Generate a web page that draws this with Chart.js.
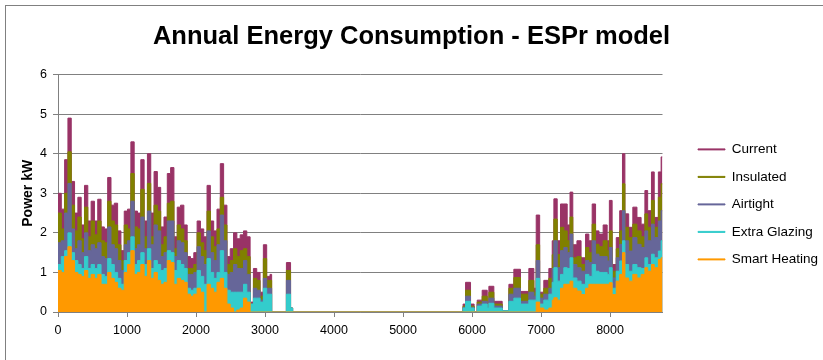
<!DOCTYPE html>
<html lang="en">
  <head>
    <meta charset="UTF-8" />
    <title>Annual Energy Consumption - ESPr model</title>
    <style>
      body {
        margin: 0;
        background-color: #ffffff;
      }
      .wrap {
        position: relative;
        width: 823px;
        height: 360px;
        overflow: hidden;
      }
      .frame {
        position: absolute;
        left: 5px;
        top: 5px;
        width: 900px;
        height: 400px;
        border-left: 1px solid #808080;
        border-top: 1px solid #808080;
      }
      canvas {
        position: absolute;
        left: 0;
        top: 0;
      }
    </style>
  </head>
  <body>
    <div class="wrap">
      <div class="frame"></div>
      <canvas id="energyChart" width="823" height="360"></canvas>
    </div>

    <script src="https://cdn.jsdelivr.net/npm/chart.js"></script>
    <script>
      // hour of year where each reading starts (held until the next one)
      var hours = [
        0, 48, 96, 144, 192, 240, 288, 336, 384, 432, 480, 528, 576, 624, 672, 720,
        768, 816, 864, 912, 960, 1008, 1056, 1104, 1152, 1200, 1248, 1296, 1344, 1392,
        1440, 1488, 1536, 1584, 1632, 1680, 1728, 1776, 1824, 1872, 1920, 1968, 2016,
        2064, 2112, 2160, 2208, 2256, 2304, 2352, 2400, 2448, 2496, 2544, 2592, 2640,
        2688, 2736, 2784, 2832, 2880, 2928, 2976, 3024, 3072, 3096, 3310, 3370, 3400,
        5870, 5906, 5978, 6030, 6075, 6147, 6220, 6244, 6316, 6437, 6534, 6606, 6702,
        6823, 6896, 6930, 6980, 7040, 7113, 7162, 7186, 7234, 7282, 7330, 7379, 7420,
        7460, 7520, 7580, 7645, 7693, 7741, 7790, 7840, 7900, 7958, 7990, 8030, 8090,
        8140, 8180, 8215, 8270, 8330, 8390, 8450, 8505, 8545, 8600, 8640, 8700, 8740, 8760
      ];

      var current = [
        3.0, 2.6, 3.85, 4.9, 3.3, 2.5, 2.9, 2.2, 3.2, 2.3, 2.8, 2.3, 2.85, 2.15, 2.1, 3.4,
        2.7, 2.75, 2.05, 1.55, 2.55, 2.6, 4.3, 2.55, 2.5, 3.85, 2.3, 4.0, 2.5, 3.55,
        3.15, 2.15, 2.4, 3.5, 3.65, 1.9, 2.65, 2.7, 2.2, 1.4, 1.35, 1.5, 2.3,
        2.1, 1.9, 3.2, 2.3, 2.05, 2.6, 3.75, 2.7, 1.4, 1.6, 2.0, 1.85, 1.95,
        2.05, 1.9, 0.25, 1.1, 1.0, 0.5, 1.7, 0.9, 0.95, 0, 1.25, 0.1, 0,
        0.2, 0.75, 0.2, 0, 0.3, 0.55, 0.1, 0.65, 0.27, 0.03, 0.7, 1.08, 0.52,
        1.1, 0.6, 2.45, 0.5, 0.8, 1.1, 1.8, 2.86, 1.8, 2.73, 2.73, 2.2, 3.03,
        1.7, 1.8, 1.37, 1.97, 1.8, 2.73, 2.05, 1.97, 2.2, 1.8, 2.82, 1.2, 1.88,
        2.56, 4.0, 2.48, 2.14, 2.65, 2.39, 2.22, 3.07, 2.56, 3.54, 2.39, 3.54, 3.92, 3.92
      ];

      var insulated = [
        2.5, 2.1, 3.0, 4.05, 2.7, 2.05, 2.4, 1.85, 2.65, 1.9, 2.3, 1.95, 2.3, 1.8, 1.75, 2.8,
        2.3, 2.2, 1.7, 1.3, 2.2, 2.1, 3.5, 2.15, 2.1, 3.1, 1.9, 3.25, 1.9, 2.7,
        2.55, 1.7, 1.9, 2.75, 2.8, 1.6, 2.2, 2.1, 1.8, 1.1, 1.1, 1.2, 2.0,
        1.75, 1.55, 2.55, 1.9, 1.65, 2.1, 2.9, 2.2, 1.2, 1.3, 1.6, 1.4, 1.55,
        1.6, 1.4, 0.2, 0.85, 0.8, 0.4, 1.35, 0.8, 0.8, 0, 1.05, 0.1, 0,
        0.15, 0.55, 0.15, 0, 0.25, 0.4, 0.1, 0.5, 0.2, 0.03, 0.6, 0.87, 0.45,
        0.8, 0.5, 1.7, 0.45, 0.6, 0.85, 1.45, 2.35, 1.45, 2.14, 2.05, 1.8, 2.4,
        1.37, 1.4, 1.2, 1.63, 1.5, 2.22, 1.71, 1.65, 1.8, 1.55, 2.05, 1.03, 1.6,
        2.05, 3.24, 2.14, 1.88, 2.22, 2.05, 1.9, 2.48, 2.14, 2.82, 2.14, 2.9, 3.24, 3.24
      ];

      var airtight = [
        1.75, 1.8, 2.5, 3.25, 2.1, 1.6, 1.8, 1.5, 2.0, 1.55, 1.7, 1.6, 1.75, 1.4, 1.35, 2.15,
        1.7, 1.6, 1.3, 1.05, 1.7, 1.8, 2.8, 1.6, 1.7, 2.4, 1.6, 2.55, 1.7, 2.2,
        2.05, 1.4, 1.5, 2.3, 2.3, 1.4, 1.8, 1.75, 1.5, 0.95, 0.95, 1.0, 1.65,
        1.4, 1.2, 2.05, 1.5, 1.3, 1.7, 2.45, 1.8, 0.95, 1.0, 1.2, 1.1, 1.1,
        1.3, 0.95, 0.2, 0.6, 0.55, 0.3, 0.85, 0.6, 0.6, 0, 0.8, 0.1, 0,
        0.12, 0.4, 0.12, 0, 0.2, 0.27, 0.1, 0.35, 0.15, 0.03, 0.45, 0.6, 0.27,
        0.5, 0.4, 1.3, 0.35, 0.45, 0.6, 1.1, 1.8, 1.12, 1.55, 1.63, 1.5, 1.97,
        1.2, 1.12, 1.03, 1.3, 1.25, 1.8, 1.46, 1.4, 1.4, 1.29, 1.63, 0.86, 1.37,
        1.71, 2.56, 1.8, 1.54, 1.88, 1.71, 1.63, 2.05, 1.8, 2.22, 1.88, 2.3, 2.56, 2.56
      ];

      var extraGlazing = [
        1.2, 1.4, 1.55, 2.0, 1.5, 1.3, 1.2, 1.1, 1.4, 1.1, 1.2, 1.1, 1.2, 0.95, 0.9, 1.35,
        1.2, 1.0, 0.85, 0.7, 1.3, 1.5, 1.9, 1.2, 1.3, 1.5, 1.2, 1.6, 1.1, 1.3,
        1.2, 1.05, 1.1, 1.55, 1.5, 1.05, 1.3, 1.2, 1.1, 0.6, 0.55, 0.6, 1.05,
        0.9, 0.7, 1.35, 1.0, 0.85, 1.0, 1.55, 1.0, 0.55, 0.5, 0.5, 0.5, 0.5,
        0.7, 0.5, 0.2, 0.35, 0.35, 0.25, 0.6, 0.45, 0.45, 0, 0.45, 0.1, 0,
        0.1, 0.27, 0.1, 0, 0.15, 0.2, 0.1, 0.22, 0.1, 0.03, 0.27, 0.35, 0.2,
        0.3, 0.3, 0.85, 0.2, 0.3, 0.45, 0.75, 1.12, 0.78, 0.95, 1.12, 1.1, 1.37,
        0.86, 0.78, 0.7, 0.95, 0.9, 1.2, 1.03, 1.0, 1.0, 0.95, 1.12, 0.6, 1.03,
        1.29, 1.8, 1.2, 1.03, 1.2, 1.12, 1.1, 1.37, 1.2, 1.46, 1.37, 1.54, 1.8, 1.8
      ];

      var smartHeating = [
        1.05, 1.0, 1.4, 1.65, 1.3, 1.0, 0.95, 0.9, 1.05, 0.85, 0.95, 0.85, 0.95, 0.7, 0.7, 1.0,
        0.85, 0.75, 0.6, 0.55, 1.0, 1.2, 1.55, 0.95, 1.0, 1.2, 0.9, 1.3, 0.85, 1.0,
        0.8, 0.7, 0.75, 1.3, 1.25, 0.7, 0.85, 0.8, 0.75, 0.45, 0.4, 0.45, 0.6,
        0.5, 0.0, 0.7, 0.6, 0.5, 0.75, 0.85, 0.6, 0.2, 0.1, 0.0, 0.05, 0.1,
        0.35, 0.25, 0, 0, 0, 0, 0, 0, 0, 0, 0, 0, 0,
        0, 0, 0, 0, 0, 0, 0, 0, 0, 0, 0, 0, 0,
        0, 0, 0.25, 0.1, 0.05, 0.1, 0.3, 0.36, 0.3, 0.6, 0.7, 0.7, 0.78,
        0.6, 0.53, 0.44, 0.6, 0.7, 0.7, 0.7, 0.7, 0.7, 0.7, 0.74, 0.44, 0.78,
        0.95, 1.5, 0.86, 0.78, 0.95, 0.86, 0.95, 1.12, 1.03, 1.2, 1.12, 1.33, 1.37, 1.37
      ];

      var seriesNames = ["Current", "Insulated", "Airtight", "Extra Glazing", "Smart Heating"];
      var seriesValues = [current, insulated, airtight, extraGlazing, smartHeating];
      var seriesColors = ["#993366", "#808000", "#666699", "#33CCCC", "#FF9900"];
      var xTicks = [0, 1000, 2000, 3000, 4000, 5000, 6000, 7000, 8000];
      var yTicks = [0, 1, 2, 3, 4, 5, 6];

      Chart.defaults.font.family = '"Liberation Sans", Arial, sans-serif';
      Chart.defaults.color = "#000000";

      var datasets = seriesNames.map(function (name, i) {
        return {
          label: name,
          data: hours.map(function (h, k) {
            return { x: h, y: seriesValues[i][k] };
          }),
          backgroundColor: seriesColors[i],
          borderColor: seriesColors[i],
          borderWidth: 1,
          pointRadius: 0,
          stepped: true,
          fill: "origin",
          order: seriesNames.length - 1 - i, // Current at the back, Smart Heating in front
        };
      });

      var ctx = document.getElementById("energyChart").getContext("2d");
      var energyChart = new Chart(ctx, {
        type: "line",
        data: { datasets: datasets },
        options: {
          responsive: false,
          animation: false,
          devicePixelRatio: 1,
          layout: {
            padding: { left: 0, right: 0, top: 0, bottom: 16 },
          },
          plugins: {
            title: {
              display: true,
              text: "Annual Energy Consumption - ESPr model",
              font: { size: 25.5, weight: "bold" },
              padding: { top: 22, bottom: 22 },
            },
            legend: {
              position: "right",
              fullSize: false,
              maxWidth: 139,
              title: { display: true, text: "", font: { size: 1 }, padding: { top: 0, bottom: 21 } },
              labels: {
                boxWidth: 27,
                boxHeight: 1,
                padding: 14,
                font: { size: 13.5 },
                sort: function (a, b) {
                  return a.datasetIndex - b.datasetIndex;
                },
              },
            },
            tooltip: { enabled: false },
          },
          scales: {
            x: {
              type: "linear",
              min: 0,
              max: 8760,
              afterBuildTicks: function (scale) {
                scale.ticks = xTicks.map(function (v) {
                  return { value: v };
                });
              },
              ticks: {
                font: { size: 12.5 },
                padding: 6,
                maxRotation: 0,
                callback: function (value) {
                  return String(value);
                },
              },
              grid: { drawOnChartArea: false, color: "#808080", tickLength: 5 },
              border: { color: "#808080" },
            },
            y: {
              min: 0,
              max: 6,
              afterBuildTicks: function (scale) {
                scale.ticks = yTicks.map(function (v) {
                  return { value: v };
                });
              },
              afterFit: function (scale) {
                scale.width = 58;
              },
              ticks: { font: { size: 12.5 }, padding: 6 },
              grid: { color: "#808080", tickLength: 5 },
              border: { color: "#808080" },
              title: {
                display: true,
                text: "Power kW",
                font: { size: 14, weight: "bold" },
                padding: { top: 20, bottom: 0 },
              },
            },
            y2: {
              position: "right",
              display: true,
              afterFit: function (scale) {
                scale.width = 21.5;
              },
              ticks: { display: false },
              grid: { display: false },
              border: { display: false },
            },
          },
        },
      });
    </script>
  </body>
</html>
